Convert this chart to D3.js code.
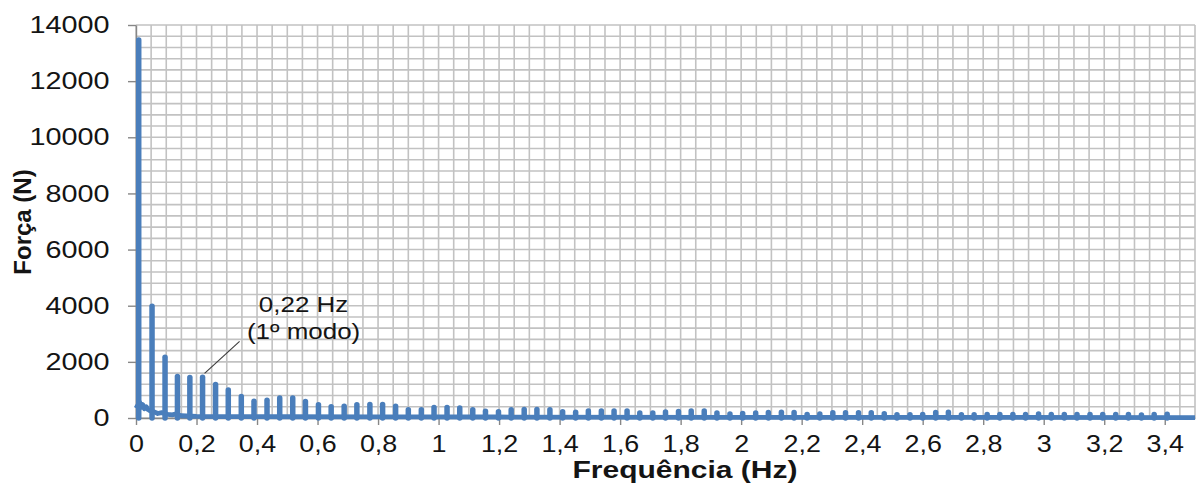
<!DOCTYPE html>
<html>
<head>
<meta charset="utf-8">
<script src="https://cdn.jsdelivr.net/npm/d3@7"></script>
<style>
  body { margin: 0; background: #fff; }
  svg { display: block; }
  text { font-family: "Liberation Sans", Arial, sans-serif; fill: #141414; }
</style>
</head>
<body>
<svg id="chart" width="1199" height="495"></svg>
<script>
// Spectrum peaks (Hz, N)
const peakFreq = [0.009, 0.053, 0.096, 0.137, 0.178, 0.220, 0.263, 0.305, 0.348, 0.390,
  0.433, 0.475, 0.518, 0.560, 0.603, 0.645, 0.688, 0.730, 0.773, 0.815,
  0.858, 0.900, 0.943, 0.985, 1.028, 1.070, 1.113, 1.155, 1.198, 1.240,
  1.283, 1.325, 1.368, 1.410, 1.453, 1.495, 1.538, 1.580, 1.623, 1.665,
  1.708, 1.750, 1.793, 1.835, 1.878, 1.920, 1.963, 2.005, 2.048, 2.090,
  2.133, 2.175, 2.218, 2.260, 2.303, 2.345, 2.388, 2.430, 2.473, 2.515,
  2.558, 2.600, 2.643, 2.685, 2.728, 2.770, 2.813, 2.855, 2.898, 2.940,
  2.983, 3.025, 3.068, 3.110, 3.153, 3.195, 3.238, 3.280, 3.323, 3.365, 3.408];
const peakForce = [13470, 3980, 2160, 1480, 1440, 1450, 1190, 1000, 770, 600,
  630, 710, 710, 590, 470, 400, 420, 475, 480, 480,
  415, 295, 295, 374, 374, 360, 290, 237, 225, 296,
  300, 305, 296, 220, 205, 250, 250, 250, 250, 182,
  182, 210, 232, 250, 250, 176, 146, 160, 182, 195,
  207, 200, 128, 140, 190, 190, 190, 190, 150, 118,
  118, 128, 195, 207, 118, 118, 128, 128, 128, 128,
  146, 128, 128, 128, 128, 128, 128, 128, 107, 128, 135];

// Background level of the spectrum between peaks
const floorFreq = [0.000, 0.012, 0.017, 0.022, 0.028, 0.034, 0.040, 0.046, 0.060, 0.072,
  0.085, 0.105, 0.120, 0.130, 0.150, 0.200, 0.300, 0.500, 0.800, 1.200, 2.000, 2.800, 3.500];
const floorForce = [350, 560, 380, 480, 330, 400, 300, 260, 220, 160,
  190, 130, 110, 140, 80, 60, 50, 45, 40, 35, 25, 20, 15];

// Axes
const xTickValues = [0, 0.2, 0.4, 0.6, 0.8, 1, 1.2, 1.4, 1.6, 1.8, 2, 2.2, 2.4, 2.6, 2.8, 3, 3.2, 3.4];
const xTickLabels = ["0", "0,2", "0,4", "0,6", "0,8", "1", "1,2", "1,4", "1,6", "1,8", "2",
  "2,2", "2,4", "2,6", "2,8", "3", "3,2", "3,4"];
const yTickValues = [0, 2000, 4000, 6000, 8000, 10000, 12000, 14000];
const yTickLabels = ["0", "2000", "4000", "6000", "8000", "10000", "12000", "14000"];

// First mode annotation
const modeFreq = 0.22;
const modeText = "(1º modo)";

const svg = d3.select("#chart");
const x = d3.scaleLinear().domain([0, 3.5]).range([136, 1195]);
const y = d3.scaleLinear().domain([0, 14000]).range([418, 25]);

const blue = "#4a7ebb";
const gridColor = "#c2c2c2";
const axisColor = "#878787";

// Grid
const grid = svg.append("g");
grid.selectAll("line.v").data(d3.range(0, 71).map(i => i * 0.05)).join("line")
  .attr("x1", d => x(d)).attr("x2", d => x(d))
  .attr("y1", y(14000)).attr("y2", y(0))
  .attr("stroke", gridColor).attr("stroke-width", 1.6);
grid.selectAll("line.h").data(d3.range(0, 36).map(i => i * 400)).join("line")
  .attr("x1", x(0)).attr("x2", x(3.5))
  .attr("y1", d => y(d)).attr("y2", d => y(d))
  .attr("stroke", gridColor).attr("stroke-width", 1.6);

// Y axis
const gy = svg.append("g").attr("transform", `translate(${x(0)},0)`)
  .call(d3.axisLeft(y).tickValues(yTickValues).tickFormat((d, i) => yTickLabels[i])
    .tickSize(8).tickSizeOuter(0).tickPadding(14));
gy.selectAll("path, line").attr("stroke", axisColor).attr("stroke-width", 1.4);
gy.selectAll("text").attr("font-size", 24).attr("fill", "#141414")
  .attr("font-family", "'Liberation Sans', Arial, sans-serif")
  .attr("transform", "scale(1.2,1)");

// X axis
const gx = svg.append("g").attr("transform", `translate(0,${y(0)})`)
  .call(d3.axisBottom(x).tickValues(xTickValues).tickFormat((d, i) => xTickLabels[i])
    .tickSize(7).tickSizeOuter(0).tickPadding(10));
gx.selectAll("path, line").attr("stroke", axisColor).attr("stroke-width", 1.4);
gx.selectAll("text").attr("font-size", 24).attr("fill", "#141414")
  .attr("font-family", "'Liberation Sans', Arial, sans-serif")
  .attr("transform", "scale(1.12,1)");

// Spectrum: background line plus the peaks
const floorPts = floorFreq.map((f, i) => [f, floorForce[i]]);
svg.append("path")
  .attr("d", d3.line().x(d => x(d[0])).y(d => y(d[1]))(floorPts))
  .attr("fill", "none").attr("stroke", blue).attr("stroke-width", 4.8)
  .attr("stroke-linejoin", "round").attr("stroke-linecap", "butt");

svg.append("g").selectAll("line").data(peakFreq.map((f, i) => [f, peakForce[i]])).join("line")
  .attr("x1", d => x(d[0])).attr("x2", d => x(d[0]))
  .attr("y1", y(0)).attr("y2", d => y(d[1]))
  .attr("stroke", blue).attr("stroke-width", 5.5).attr("stroke-linecap", "round");

// Annotation of the first mode
const modeIdx = peakFreq.indexOf(modeFreq);
const px = x(modeFreq), py = y(peakForce[modeIdx]);
svg.append("line")
  .attr("x1", px + 2).attr("y1", py - 4)
  .attr("x2", px + 37).attr("y2", py - 36)
  .attr("stroke", "#3a3a3a").attr("stroke-width", 1.1);
const ann = svg.append("g").attr("transform", `translate(${px + 101},0)`);
ann.append("text").attr("y", 312).attr("text-anchor", "middle").attr("font-size", 22)
  .attr("transform", "scale(1.18,1)")
  .text(String(modeFreq).replace(".", ",") + " Hz");
ann.append("text").attr("y", 339).attr("text-anchor", "middle").attr("font-size", 22)
  .attr("transform", "scale(1.18,1)")
  .text(modeText);

// Axis titles
svg.append("g").attr("transform", "translate(685,478)")
  .append("text").attr("text-anchor", "middle").attr("font-size", 24).attr("font-weight", "bold")
  .attr("transform", "scale(1.25,1)")
  .text("Frequência (Hz)");
svg.append("text").attr("transform", "translate(31,222) rotate(-90)")
  .attr("text-anchor", "middle").attr("font-size", 24).attr("font-weight", "bold")
  .text("Força (N)");
</script>
</body>
</html>
